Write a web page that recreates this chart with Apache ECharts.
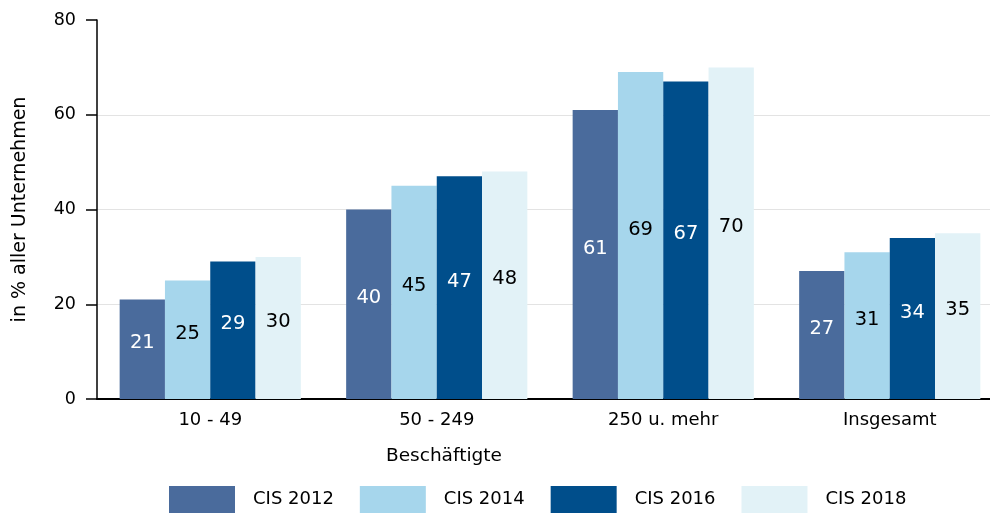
<!DOCTYPE html>
<html><head><meta charset="utf-8">
<script src="https://cdn.jsdelivr.net/npm/echarts@6/dist/echarts.min.js"></script>
<style>html,body{margin:0;padding:0;background:#fff;overflow:hidden}#c{width:1003px;height:513px}</style>
</head><body><div id="c"></div>
<script>
const categories = ['10 - 49', '50 - 249', '250 u. mehr', 'Insgesamt'];
const seriesNames = ['CIS 2012', 'CIS 2014', 'CIS 2016', 'CIS 2018'];
const cis2012 = [21, 40, 61, 27];
const cis2014 = [25, 45, 69, 31];
const cis2016 = [29, 47, 67, 34];
const cis2018 = [30, 48, 70, 35];
const yTicks = [0, 20, 40, 60, 80];

const colors = ['#4a6b9c', '#a6d6ec', '#004e8b', '#e2f2f7'];
const labelColors = ['#ffffff', '#000000', '#ffffff', '#000000'];
const values = [cis2012, cis2014, cis2016, cis2018];
const FONT = 'DejaVu Sans';

const chart = echarts.init(document.getElementById('c'));
chart.setOption({
  animation: false,
  textStyle: {fontFamily: FONT},
  grid: {left: 97, right: 0, top: 20, bottom: 114, containLabel: false},
  xAxis: {
    type: 'category', data: categories,
    axisLine: {lineStyle: {color: '#000', width: 2}},
    axisTick: {show: false},
    axisLabel: {color: '#000', fontSize: 18, fontFamily: FONT, margin: 12}
  },
  yAxis: {
    type: 'value', min: yTicks[0], max: yTicks[yTicks.length - 1], interval: 20,
    name: 'in % aller Unternehmen', nameLocation: 'middle', nameGap: 67,
    nameTextStyle: {color: '#000', fontSize: 19, fontFamily: FONT},
    axisLine: {show: true, lineStyle: {color: '#000', width: 1.5}},
    axisTick: {show: true, length: 11, lineStyle: {color: '#000', width: 1.5}},
    axisLabel: {color: '#000', fontSize: 17.5, fontFamily: FONT, margin: 21},
    splitLine: {show: true, lineStyle: {color: ['#e3e3e3', '#e3e3e3', '#e3e3e3', '#e3e3e3', 'rgba(0,0,0,0)'], width: 1}}
  },
  legend: {
    left: 169, top: 486, padding: 0, itemWidth: 66, itemHeight: 27, itemGap: 26,
    icon: 'rect',
    data: seriesNames,
    textStyle: {color: '#000', fontSize: 18, fontFamily: FONT, padding: [0, 0, 0, 13]}
  },
  graphic: [{
    type: 'text', left: 386, top: 447,
    style: {text: 'Beschäftigte', fill: '#000', font: '18.5px "DejaVu Sans"'}
  }],
  series: seriesNames.map((n, i) => ({
    name: n, type: 'bar', data: values[i],
    barGap: '0%', barCategoryGap: '20%',
    itemStyle: {color: colors[i]},
    label: {show: true, position: 'inside', offset: [0, -6], color: labelColors[i], fontSize: 19.5, fontFamily: FONT}
  }))
});
</script></body></html>
